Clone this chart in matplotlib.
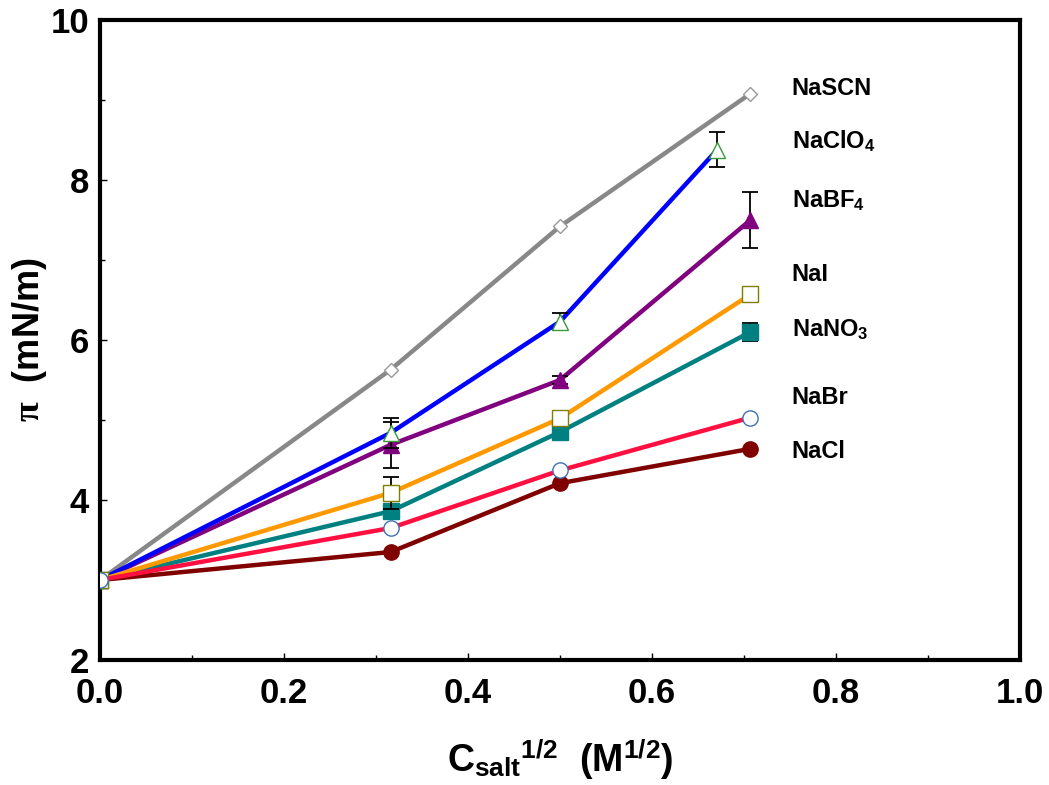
import matplotlib
matplotlib.use("Agg")
import matplotlib.pyplot as plt
from matplotlib.ticker import MultipleLocator, FormatStrFormatter

# ---------------- FONTS ----------------
plt.rcParams['font.family'] = ['Liberation Sans', 'DejaVu Sans']
plt.rcParams['font.weight'] = 'bold'
plt.rcParams['mathtext.fontset'] = 'custom'
plt.rcParams['mathtext.rm'] = 'Liberation Sans:bold'
plt.rcParams['mathtext.bf'] = 'Liberation Sans:bold'
plt.rcParams['mathtext.it'] = 'Liberation Serif'

# ---------------- DATA ----------------
x_salt = [0.0, 0.316, 0.5, 0.707]
x_clo4 = [0.0, 0.316, 0.5, 0.671]

pi_scn = [3.0, 5.63, 7.42, 9.08]
pi_clo4 = [3.0, 4.84, 6.23, 8.38]
err_clo4 = [0.0, 0.19, 0.11, 0.22]
pi_bf4 = [3.0, 4.69, 5.50, 7.50]
err_bf4 = [0.0, 0.29, 0.05, 0.35]
pi_i = [3.0, 4.09, 5.02, 6.57]
err_i = [0.0, 0.20, 0.08, 0.05]
pi_no3 = [3.0, 3.86, 4.85, 6.10]
err_no3 = [0.0, 0.07, 0.08, 0.11]
pi_br = [3.0, 3.65, 4.37, 5.03]
pi_cl = [3.0, 3.35, 4.21, 4.64]

# name, x, y, yerr, line colour, marker, face, edge, size
series = [
    ("NaSCN", x_salt, pi_scn, None, "#888888", "D", "white", "#999999", 7.5),
    ("NaBF$_4$", x_salt, pi_bf4, err_bf4, "#800080", "^", "#800080", "#800080", 11),
    ("NaClO$_4$", x_clo4, pi_clo4, err_clo4, "#0000FF", "^", "white", "#3a9a3a", 11),
    ("NaCl", x_salt, pi_cl, None, "#800000", "o", "#800000", "#800000", 11),
    ("NaNO$_3$", x_salt, pi_no3, err_no3, "#008080", "s", "#008080", "#008080", 11),
    ("NaI", x_salt, pi_i, err_i, "#FF9900", "s", "white", "#808000", 11),
    ("NaBr", x_salt, pi_br, None, "#FF1040", "o", "white", "#4070b0", 11),
]

# label text and baseline height (data units), listed top to bottom
label_names = ["NaSCN", "NaClO$_4$", "NaBF$_4$", "NaI", "NaNO$_3$", "NaBr", "NaCl"]
label_y = [9.06, 8.39, 7.65, 6.74, 6.04, 5.20, 4.525]

# ---------------- PLOT ----------------
fig = plt.figure(figsize=(10.49, 7.85), dpi=100)
ax = fig.add_axes([100 / 1049, 1 - 660 / 785, 920 / 1049, 640 / 785])

z = 2
for name, xs, ys, err, lc, mk, mfc, mec, ms in series:
    ax.plot(xs, ys, color=lc, lw=3.2, zorder=z)
    if err is not None:
        ax.errorbar(xs, ys, yerr=err, fmt='none', ecolor='black',
                    elinewidth=1.3, capsize=6, capthick=1.3, zorder=z + 0.1)
    ax.plot(xs, ys, ls='none', marker=mk, ms=ms, mfc=mfc, mec=mec,
            mew=1.0, zorder=z + 0.2)
    z += 1

for name, ly in zip(label_names, label_y):
    ax.text(0.752, ly, name, fontsize=17, fontweight='bold',
            ha='left', va='baseline')

ax.set_xlim(0, 1.0)
ax.set_ylim(2, 10)
ax.xaxis.set_major_locator(MultipleLocator(0.2))
ax.xaxis.set_minor_locator(MultipleLocator(0.1))
ax.yaxis.set_major_locator(MultipleLocator(2))
ax.yaxis.set_minor_locator(MultipleLocator(1))
ax.xaxis.set_major_formatter(FormatStrFormatter('%.1f'))
ax.yaxis.set_major_formatter(FormatStrFormatter('%d'))

ax.tick_params(which='both', direction='in', width=1, labelsize=25)
ax.tick_params(which='major', length=5)
ax.tick_params(which='minor', length=3.5)
ax.tick_params(axis='x', pad=12)
ax.tick_params(axis='y', pad=8)

for sp in ax.spines.values():
    sp.set_linewidth(3)

ax.set_xlabel(r"C$_\mathrm{salt}{}^\mathrm{1/2}$  (M$^\mathrm{1/2}$)",
              fontsize=27, fontweight='bold', labelpad=20)
ax.set_ylabel(r"$\pi$  (mN/m)", fontsize=26, fontweight='bold', labelpad=1)

fig.savefig("out.png", dpi=100)
